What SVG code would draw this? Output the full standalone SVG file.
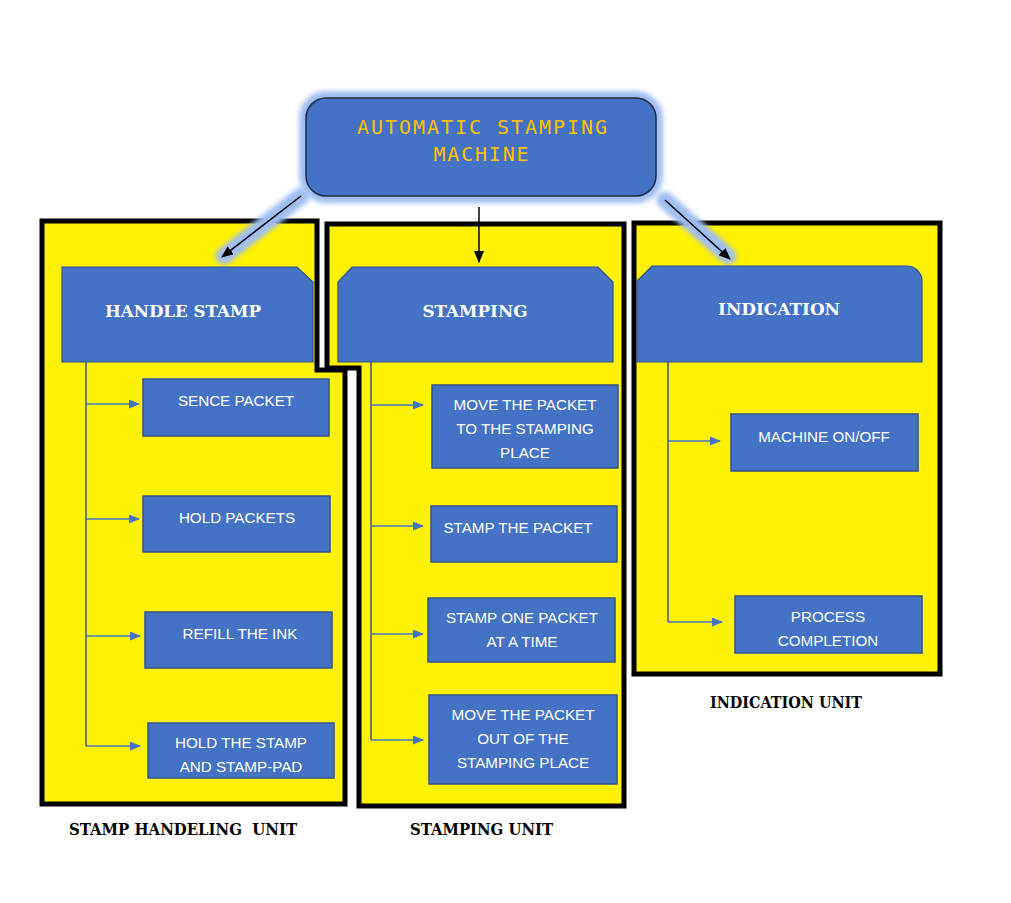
<svg xmlns="http://www.w3.org/2000/svg" width="1011" height="903" viewBox="0 0 1011 903">
<style>
.panel{fill:#FFF200;stroke:#000;stroke-width:5;stroke-linejoin:miter}
.hdr{fill:#4472C4;stroke:#2F528F;stroke-width:1.2}
.box{fill:#4472C4;stroke:#2F528F;stroke-width:1.5}
.ht{font-family:"DejaVu Serif","Liberation Serif",serif;font-weight:bold;font-size:16.5px;fill:#fff;text-anchor:middle}
.bt{font-family:"Liberation Sans",Arial,sans-serif;font-size:15.2px;fill:#fff;text-anchor:middle}
.ut{font-family:"DejaVu Serif","Liberation Serif",serif;font-weight:bold;font-size:16px;fill:#000}
.tt{font-family:"DejaVu Sans Mono","Liberation Mono",monospace;font-size:20px;fill:#FFC000;text-anchor:middle}
.halo{fill:none;stroke:#9FBDF3;stroke-width:17;stroke-linecap:round;filter:url(#blur)}
.blk{fill:none;stroke:#000;stroke-width:1.5;marker-end:url(#ah)}
.bla{fill:none;stroke:#4472C4;stroke-width:1.5;marker-end:url(#bh)}
.vl{fill:none;stroke:#3E5580;stroke-width:1.5}
</style>
<defs>
<filter id="blur" x="-50%" y="-50%" width="200%" height="200%"><feGaussianBlur stdDeviation="2.5"/></filter>
<marker id="ah" markerWidth="12" markerHeight="10" refX="11" refY="5" orient="auto" markerUnits="userSpaceOnUse"><path d="M0,0 L12,5 L0,10 Z" fill="#000"/></marker>
<marker id="bh" markerWidth="11" markerHeight="9" refX="10" refY="4.5" orient="auto" markerUnits="userSpaceOnUse"><path d="M0,0 L11,4.5 L0,9 Z" fill="#4472C4"/></marker>
</defs>
<rect width="1011" height="903" fill="#fff"/>
<g id="panels">
<polygon class="panel" points="42,221 317,221 317,370 345,370 345,804 42,804"/>
<polygon class="panel" points="327,224 624,224 624,806 359,806 359,368 327,368"/>
<rect class="panel" x="634" y="223" width="306" height="451"/>
</g>
<g id="top">
<rect x="306" y="98" width="350" height="98" rx="20" fill="none" stroke="#9FBDF3" stroke-width="14" filter="url(#blur)"/>
<rect x="306" y="98" width="350" height="98" rx="20" fill="#4472C4" stroke="#1F2B40" stroke-width="1.5"/>
<text class="tt" x="482" y="134" textLength="250" lengthAdjust="spacing">AUTOMATIC STAMPING</text>
<text class="tt" x="481" y="161" textLength="95" lengthAdjust="spacing">MACHINE</text>
</g>
<g id="connectors">
<path class="halo" d="M301,196 L224,256"/>
<path class="halo" d="M479,207 L479,258"/>
<path class="halo" d="M665,200 L728,256"/>
<path class="blk" d="M301,196 L222,257"/>
<path class="blk" d="M479,207 L479,262"/>
<path class="blk" d="M665,200 L730,259"/>
<path class="vl" d="M86,362 V746"/>
<path class="bla" d="M86,404 H139"/>
<path class="bla" d="M86,519 H139"/>
<path class="bla" d="M86,636 H140"/>
<path class="bla" d="M86,746 H140"/>
<path class="vl" d="M371,362 V740"/>
<path class="bla" d="M371,405 H423"/>
<path class="bla" d="M371,526 H423"/>
<path class="bla" d="M371,634 H423"/>
<path class="bla" d="M371,740 H423"/>
<path class="vl" d="M668,362 V622"/>
<path class="bla" d="M668,441 H720"/>
<path class="bla" d="M668,622 H722"/>
</g>
<g id="handle-stamp">
<path class="hdr" d="M62,267 H297 L313,282 V362 H62 Z"/>
<text class="ht" x="183" y="317" textLength="156" lengthAdjust="spacingAndGlyphs">HANDLE STAMP</text>
</g>
<g id="stamping">
<path class="hdr" d="M352,267 H598 L613,282 V362 H338 V282 Z"/>
<text class="ht" x="475" y="317" textLength="105" lengthAdjust="spacingAndGlyphs">STAMPING</text>
</g>
<g id="indication">
<path class="hdr" d="M652,266 H907 A15,15 0 0 1 922,281 V362 H637 V281 Z"/>
<text class="ht" x="779" y="315" textLength="122" lengthAdjust="spacingAndGlyphs">INDICATION</text>
</g>
<g id="sence-packet">
<rect class="box" x="143" y="379" width="186" height="57"/>
<text class="bt" x="236" y="406">SENCE PACKET</text>
</g>
<g id="hold-packets">
<rect class="box" x="143" y="496" width="187" height="56"/>
<text class="bt" x="237" y="523">HOLD PACKETS</text>
</g>
<g id="refill-ink">
<rect class="box" x="145" y="612" width="187" height="56"/>
<text class="bt" x="240" y="639">REFILL THE INK</text>
</g>
<g id="hold-stamp">
<rect class="box" x="148" y="723" width="186" height="55"/>
<text class="bt" x="241" y="748">HOLD THE STAMP</text>
<text class="bt" x="241" y="772">AND STAMP-PAD</text>
</g>
<g id="move-to">
<rect class="box" x="432" y="385" width="186" height="83"/>
<text class="bt" x="525" y="410">MOVE THE PACKET</text>
<text class="bt" x="525" y="434">TO THE STAMPING</text>
<text class="bt" x="525" y="458">PLACE</text>
</g>
<g id="stamp-packet">
<rect class="box" x="431" y="506" width="186" height="56"/>
<text class="bt" x="518" y="533">STAMP THE PACKET</text>
</g>
<g id="one-packet">
<rect class="box" x="428" y="598" width="187" height="64"/>
<text class="bt" x="522" y="623">STAMP ONE PACKET</text>
<text class="bt" x="522" y="647">AT A TIME</text>
</g>
<g id="move-out">
<rect class="box" x="429" y="695" width="188" height="89"/>
<text class="bt" x="523" y="720">MOVE THE PACKET</text>
<text class="bt" x="523" y="744">OUT OF THE</text>
<text class="bt" x="523" y="768">STAMPING PLACE</text>
</g>
<g id="machine-onoff">
<rect class="box" x="731" y="414" width="187" height="57"/>
<text class="bt" x="824" y="442">MACHINE ON/OFF</text>
</g>
<g id="process-completion">
<rect class="box" x="735" y="596" width="187" height="57"/>
<text class="bt" x="828" y="622">PROCESS</text>
<text class="bt" x="828" y="646">COMPLETION</text>
</g>
<g id="labels">
<text class="ut" x="69" y="835" textLength="228" lengthAdjust="spacingAndGlyphs" xml:space="preserve">STAMP HANDELING  UNIT</text>
<text class="ut" x="410" y="835" textLength="143" lengthAdjust="spacingAndGlyphs">STAMPING UNIT</text>
<text class="ut" x="710" y="708" textLength="152" lengthAdjust="spacingAndGlyphs">INDICATION UNIT</text>
</g>
</svg>
